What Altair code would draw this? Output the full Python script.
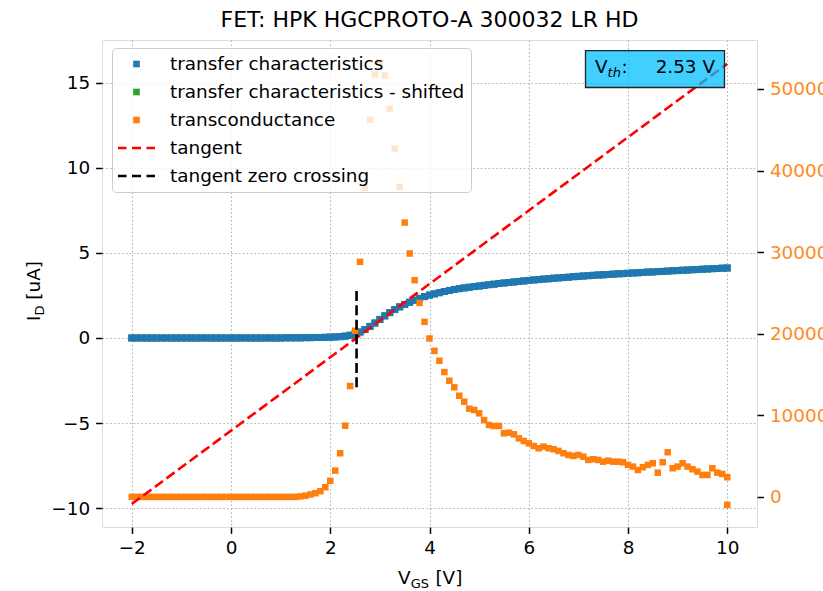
import altair as alt
import numpy as np
import pandas as pd

FONT = "DejaVu Sans"

# ---------------- data ----------------
series_names = ["transfer characteristics", "transfer characteristics - shifted",
                "transconductance", "tangent", "tangent zero crossing"]
series_colors = ["#1f77b4", "#2ca02c", "#ff7f0e", "#ff0000", "#000000"]

v_gs = np.round(np.arange(-2.0, 10.0001, 0.1), 1)  # gate voltage sweep, 0.1 V steps

i_d = [0.00, 0.00, 0.00, 0.00, 0.00, 0.00, 0.00, 0.00, 0.00, 0.00,
       0.00, 0.00, 0.00, 0.00, 0.00, 0.00, 0.00, 0.00, 0.00, 0.00,
       0.00, 0.00, 0.00, 0.00, 0.00, 0.00, 0.00, 0.00, 0.00, 0.00,
       0.00, 0.01, 0.01, 0.01, 0.01,
       0.02, 0.02, 0.03, 0.03, 0.04,
       0.05, 0.06, 0.08, 0.11, 0.16, 0.23, 0.35, 0.50, 0.68, 0.88,
       1.09, 1.30, 1.49, 1.67, 1.83, 1.97, 2.10, 2.22, 2.33, 2.43,
       2.52, 2.59, 2.66, 2.73, 2.79, 2.85, 2.90, 2.94, 2.98, 3.02,
       3.05, 3.09, 3.13, 3.16, 3.20, 3.23, 3.26, 3.29, 3.32, 3.35,
       3.38, 3.41, 3.43, 3.46, 3.48, 3.51, 3.53, 3.55, 3.57, 3.60,
       3.62, 3.64, 3.66, 3.68, 3.70, 3.71, 3.73, 3.75, 3.77, 3.78,
       3.80, 3.82, 3.83, 3.85, 3.87, 3.88, 3.90, 3.91, 3.93, 3.95,
       3.96, 3.98, 3.99, 4.01, 4.02, 4.04, 4.05, 4.07, 4.08, 4.10,
       4.11]

gm = [0, 0, 0, 0, 0, 0, 0, 0, 0, 0,
      0, 0, 0, 0, 0, 0, 0, 0, 0, 0,
      0, 0, 0, 0, 0, 0, 0, 0, 0, 0,
      0, 0, 0, 0,
      60, 150, 300, 450, 700, 1190,
      1960, 3220, 5350, 8730, 13590, 20360, 28800, 37860, 46230, 51770,
      53280, 51650, 47570, 42680, 37980, 33620, 29830, 26560, 23780, 21460,
      19420, 17900, 16690, 15300, 14240, 13430, 12400, 11670, 10810, 10650,
      10240, 9420, 8810, 8690, 8690, 7800, 7870, 7670, 7180, 6850,
      6570, 6240, 5960, 6160, 5960, 5840, 5630, 5350, 5140, 5020,
      5140, 4930, 4530, 4610, 4530, 4320, 4440, 4320, 4320, 4250,
      3920, 3710, 3300, 3640, 3920, 4120, 2970, 4250, 5470, 3510,
      3710, 4120, 3710, 3390, 3100, 2690, 2690, 3510, 2970, 2810,
      2410]
gm_end_v = [10.0]
gm_end = [-980]

tangent_v = [-2.0, 10.0]
tangent_i = [-9.75, 16.1]
zero_v = [2.53, 2.53]
zero_i = [-2.9, 2.8]
v_th = 2.53

x_ticks = [-2, 0, 2, 4, 6, 8, 10]
y_ticks = [-10, -5, 0, 5, 10, 15]
y2_ticks = [0, 10000, 20000, 30000, 40000, 50000]

# ---------------- tables ----------------
df_tc = pd.DataFrame({"V": v_gs, "I": i_d, "series": series_names[0]})
df_sh = pd.DataFrame({"V": v_gs, "I": i_d, "series": series_names[1]})
df_gm = pd.DataFrame({"V": list(v_gs) + gm_end_v, "G": gm + gm_end, "series": series_names[2]})
df_tan = pd.DataFrame({"V": tangent_v, "I": tangent_i})
df_zero = pd.DataFrame({"V": zero_v, "I": zero_i})
df_vth = pd.DataFrame({"label": [f"{v_th:.2f} V"]})

SQ = "M-0.33,-0.33H0.33V0.33H-0.33Z"
DASH = ("M-1.85,-0.12H-1.0V0.12H-1.85Z M-0.45,-0.12H0.45V0.12H-0.45Z "
        "M1.0,-0.12H1.85V0.12H1.0Z")
series_shapes = [SQ, SQ, SQ, DASH, DASH]

color_scale = alt.Scale(domain=series_names, range=series_colors)
shape_scale = alt.Scale(domain=series_names, range=series_shapes)

xdom = alt.Scale(domain=[-2.6, 10.6], nice=False, zero=False)
ydom = alt.Scale(domain=[-11.1, 17.5], nice=False, zero=False)
y2dom = alt.Scale(domain=[-3690, 56000], nice=False, zero=False)

grid_kw = dict(grid=True, gridDash=[1.5, 2.4], gridColor="#b0b0b0", gridWidth=1.1)
tick_kw = dict(labelFont=FONT, labelFontSize=18.4, labelColor="#000000",
               tickSize=6.4, tickWidth=1.5, tickColor="#000000", domain=False, title=None)

x_axis = alt.Axis(values=x_ticks, format="d", labelPadding=5, **grid_kw, **tick_kw)
y_axis = alt.Axis(values=y_ticks, format="d", labelPadding=6, **grid_kw, **tick_kw)
y2_axis = alt.Axis(values=y2_ticks, format="d", orient="right", labelPadding=6, grid=False,
                   labelFont=FONT, labelFontSize=18.4, labelColor="#ff8a24",
                   tickSize=6.4, tickWidth=1.5, tickColor="#000000", domain=False, title=None)

legend_kw = dict(
    orient="none", legendX=10, legendY=8, padding=6, title=None,
    fillColor="rgba(255,255,255,0.8)", strokeColor="#cccccc", cornerRadius=4,
    labelFont=FONT, labelFontSize=18.4, labelColor="#000000", labelLimit=500,
    symbolSize=400, symbolOffset=8.5, labelOffset=23.5, rowPadding=8,
    symbolStrokeWidth=0,
)

X = alt.X("V:Q", scale=xdom, axis=x_axis)

def pts(df, size, yfield="I:Q", yscale=ydom, yaxis=y_axis):
    return alt.Chart(df).mark_point(filled=True, opacity=1, size=size, strokeWidth=0).encode(
        x=X,
        y=alt.Y(yfield, scale=yscale, axis=yaxis),
        color=alt.Color("series:N", scale=color_scale, legend=alt.Legend(**legend_kw)),
        shape=alt.Shape("series:N", scale=shape_scale, legend=alt.Legend(**legend_kw)),
    )

left_pts = alt.layer(pts(df_sh, 450), pts(df_tc, 450))
right_pts = pts(df_gm, 390, yfield="G:Q", yscale=y2dom, yaxis=y2_axis)

tan_line = alt.Chart(df_tan).mark_line(color="#ff0000", strokeDash=[10, 4.4], strokeWidth=2.6).encode(
    x=X, y=alt.Y("I:Q", scale=ydom, axis=None))
zero_line = alt.Chart(df_zero).mark_line(color="#000000", strokeDash=[10, 4.4], strokeWidth=2.6).encode(
    x=X, y=alt.Y("I:Q", scale=ydom, axis=None))
lines = alt.layer(tan_line, zero_line)

# V_th annotation box
box = alt.Chart(df_vth).mark_rect(fill="#00bfff", fillOpacity=0.75, stroke="#222222",
                                  strokeWidth=1.3).encode(
    x=alt.value(483.5), x2=alt.value(622.5), y=alt.value(10.7), y2=alt.value(47.5))
txt_common = dict(font=FONT, color="#000000", baseline="alphabetic")
box_v = alt.Chart(df_vth).mark_text(text="V", fontSize=18.4, align="left", **txt_common).encode(
    x=alt.value(493), y=alt.value(33.3))
box_th = alt.Chart(df_vth).mark_text(text="th", fontSize=13, fontStyle="italic", align="left",
                                     **txt_common).encode(x=alt.value(505.6), y=alt.value(36.5))
box_colon = alt.Chart(df_vth).mark_text(text=":", fontSize=18.4, align="left", **txt_common).encode(
    x=alt.value(519.5), y=alt.value(33.3))
box_val = alt.Chart(df_vth).mark_text(fontSize=18.4, align="right", **txt_common).encode(
    text="label:N", x=alt.value(613), y=alt.value(33.3))
annot = alt.layer(box, box_v, box_th, box_colon, box_val)

# axis titles with subscripts
xt1 = alt.Chart(df_vth).mark_text(text="V", fontSize=18.4, align="left", **txt_common).encode(
    x=alt.value(296), y=alt.value(544))
xt2 = alt.Chart(df_vth).mark_text(text="GS", fontSize=13, align="left", **txt_common).encode(
    x=alt.value(308.8), y=alt.value(548))
xt3 = alt.Chart(df_vth).mark_text(text="[V]", fontSize=18.4, align="left", **txt_common).encode(
    x=alt.value(333.4), y=alt.value(544))
yt1 = alt.Chart(df_vth).mark_text(text="I", fontSize=18.4, align="left", angle=270, **txt_common).encode(
    x=alt.value(-62), y=alt.value(281))
yt2 = alt.Chart(df_vth).mark_text(text="D", fontSize=13, align="left", angle=270, **txt_common).encode(
    x=alt.value(-58), y=alt.value(275.6))
yt3 = alt.Chart(df_vth).mark_text(text="[uA]", fontSize=18.4, align="left", angle=270, **txt_common).encode(
    x=alt.value(-62), y=alt.value(259.7))
titles = alt.layer(xt1, xt2, xt3, yt1, yt2, yt3)

chart = alt.layer(left_pts, right_pts, lines, annot, titles).resolve_scale(
    y="independent"
).properties(
    width=655, height=487,
    title=alt.TitleParams(text="FET: HPK HGCPROTO-A 300032 LR HD", font=FONT, fontSize=22,
                          fontWeight="normal", color="#000000", anchor="middle", offset=8),
    autosize=alt.AutoSizeParams(type="none"),
    padding={"left": 102, "top": 40, "right": 66, "bottom": 64},
).configure_view(
    stroke="#000000", strokeWidth=1.5
).configure(background="white")

chart.save("out.html", embed_options={"renderer": "svg", "actions": False})
